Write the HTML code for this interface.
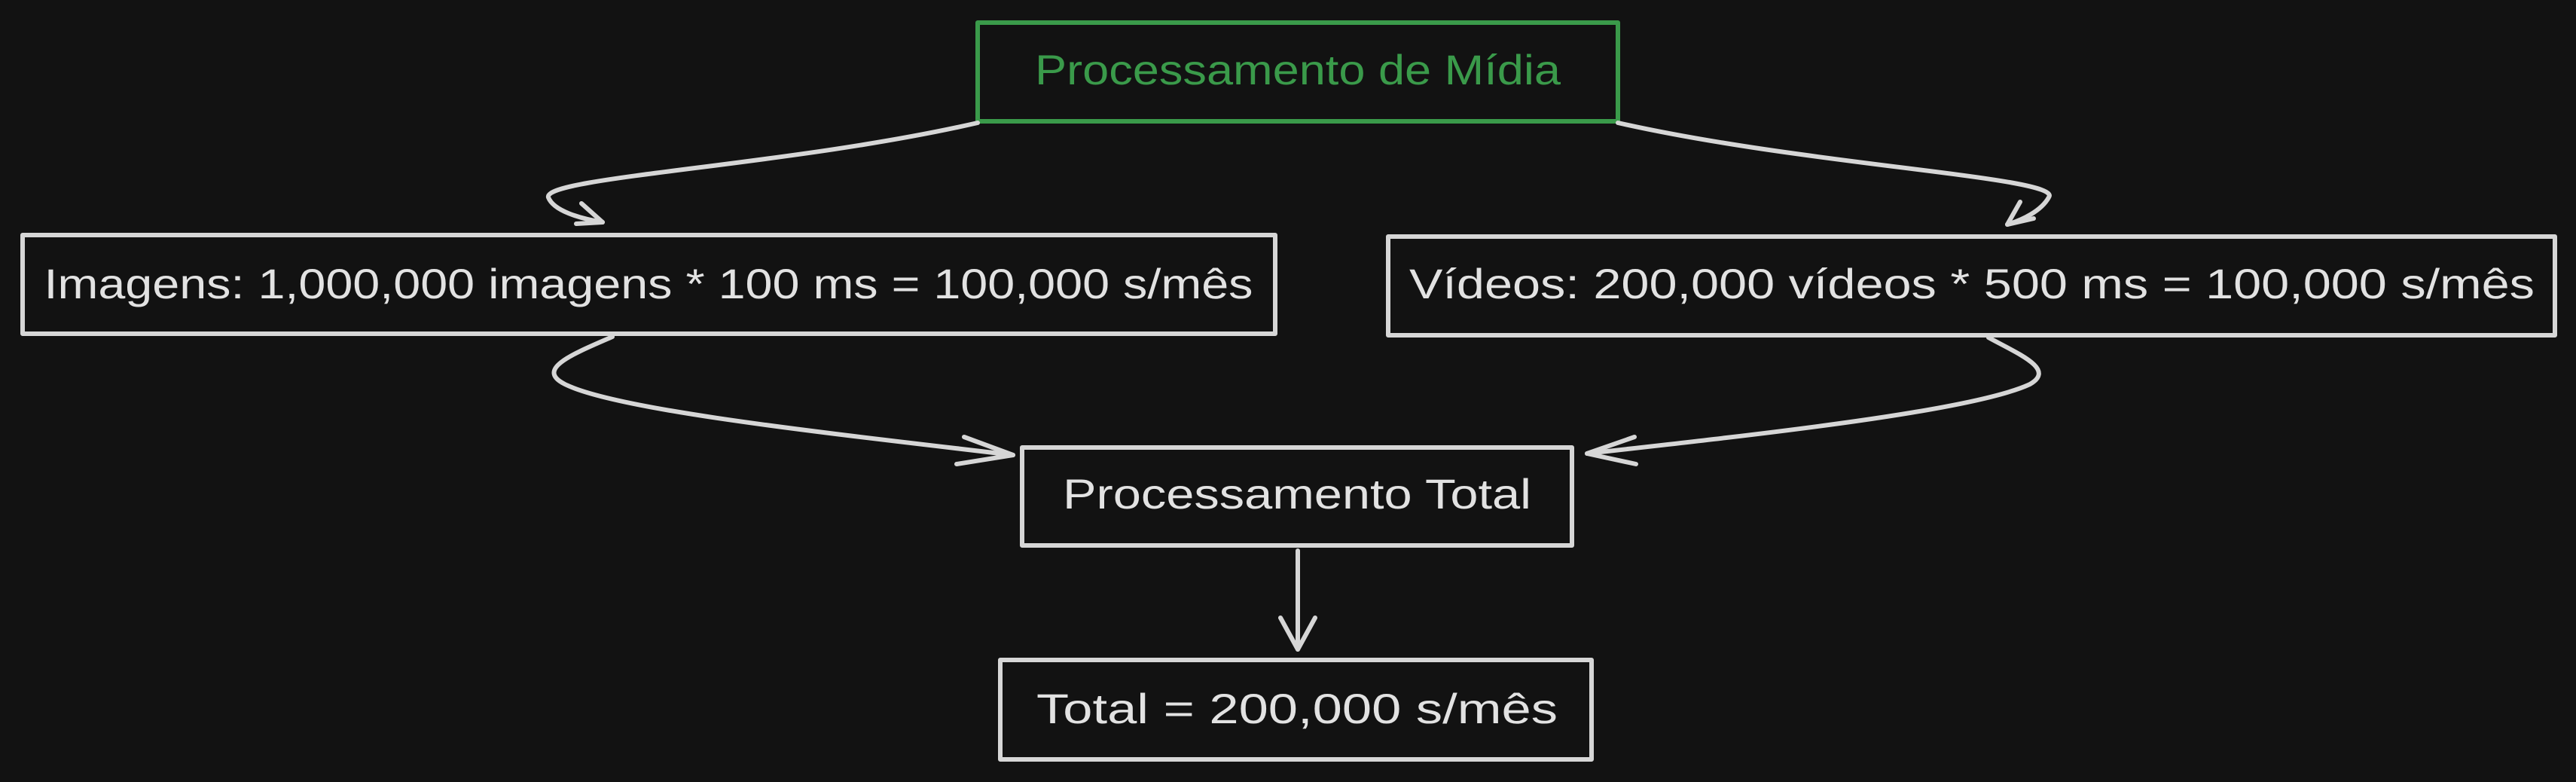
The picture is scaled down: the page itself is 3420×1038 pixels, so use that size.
<!DOCTYPE html>
<html><head><meta charset="utf-8"><style>
html,body{margin:0;padding:0;background:#121212;}
svg{display:block;}
text{font-family:"Liberation Sans",sans-serif;font-size:56px;}
</style></head><body>
<svg width="3420" height="1038" viewBox="0 0 3420 1038" xmlns="http://www.w3.org/2000/svg">
<rect width="3420" height="1038" fill="#121212"/>
<g fill="none" stroke-linecap="round" stroke-linejoin="round">
<rect x="1298" y="30" width="850" height="131" stroke="#3a9a4a" stroke-width="6"/>
<g stroke="#d6d6d6" stroke-width="6">
<rect x="30" y="312" width="1663" height="131"/>
<rect x="1843" y="314" width="1549" height="131"/>
<rect x="1357" y="594" width="730" height="130"/>
<rect x="1328" y="876" width="785" height="132"/>
<path d="M1298 163 C1050 220 720 235 728 262 C735 280 770 290 800 295"/>
<path d="M772 270 L800 295 L765 297"/>
<path d="M2148 163 C2400 220 2740 235 2720 262 C2710 280 2685 292 2665 298"/>
<path d="M2682 268 L2665 298 L2700 290"/>
<path d="M813 447 C760 470 710 490 750 510 C820 545 1100 575 1345 604"/>
<path d="M1280 580 L1345 604 L1270 616"/>
<path d="M2640 448 C2680 470 2730 490 2695 510 C2620 545 2350 575 2107 602"/>
<path d="M2170 580 L2107 602 L2172 616"/>
<path d="M1723 731 L1723 862"/>
<path d="M1700 820 L1723 862 L1746 820"/>
</g>
</g>
<text x="1723" y="112" fill="#3a9a4a" text-anchor="middle" textLength="698" lengthAdjust="spacingAndGlyphs">Processamento de Mídia</text>
<text x="861" y="396" fill="#e2e2e2" text-anchor="middle" textLength="1605" lengthAdjust="spacingAndGlyphs">Imagens: 1,000,000 imagens * 100 ms = 100,000 s/mês</text>
<text x="2618" y="396" fill="#e2e2e2" text-anchor="middle" textLength="1494" lengthAdjust="spacingAndGlyphs">Vídeos: 200,000 vídeos * 500 ms = 100,000 s/mês</text>
<text x="1722" y="675" fill="#e2e2e2" text-anchor="middle" textLength="622" lengthAdjust="spacingAndGlyphs">Processamento Total</text>
<text x="1722" y="960" fill="#e2e2e2" text-anchor="middle" textLength="692" lengthAdjust="spacingAndGlyphs">Total = 200,000 s/mês</text>
</svg>
</body></html>
